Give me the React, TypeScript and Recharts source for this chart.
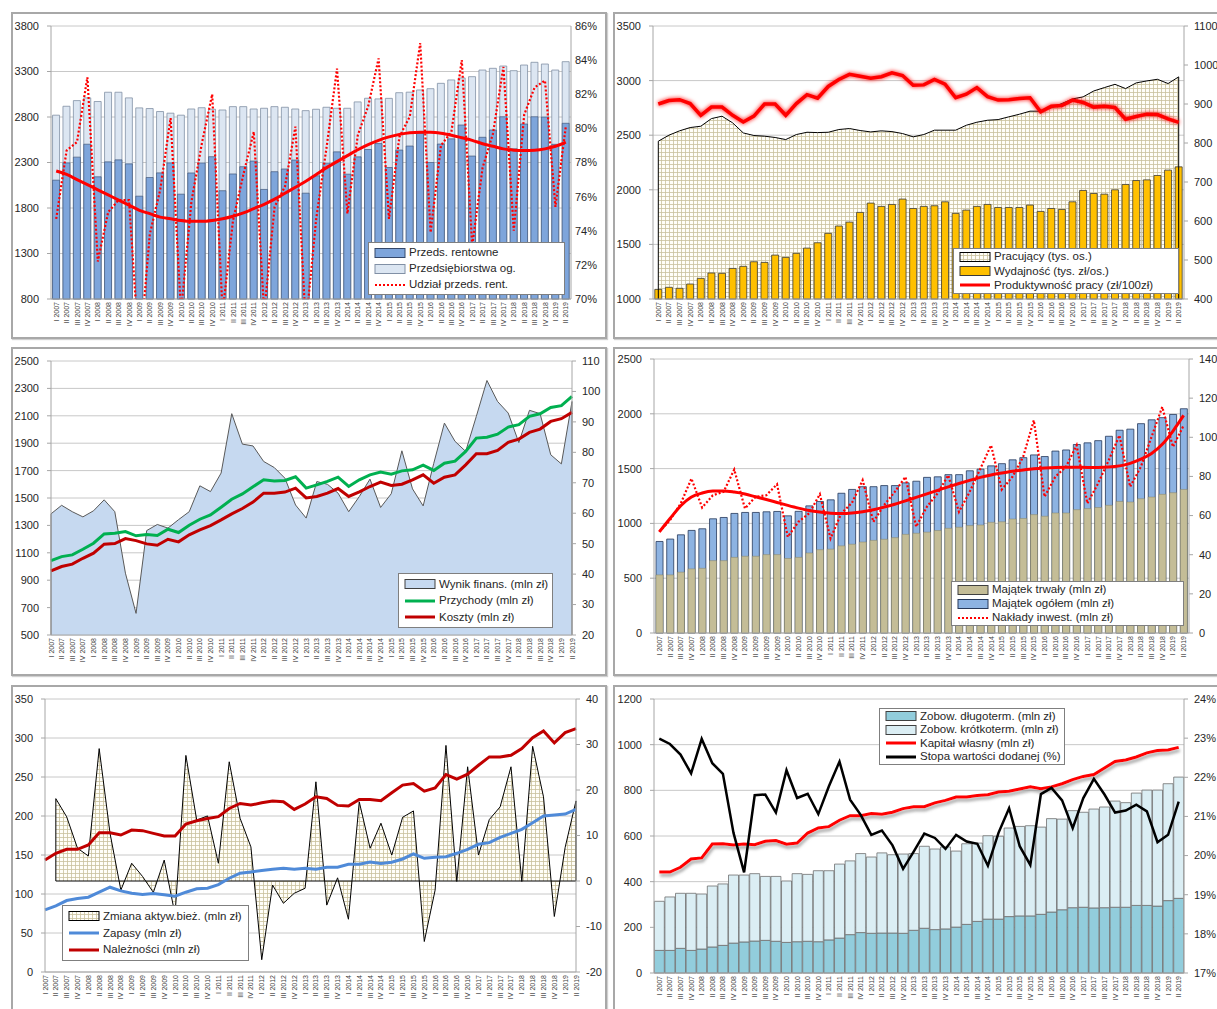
import React from "react";
import { ComposedChart, Bar, Line, Area, XAxis, YAxis, CartesianGrid, ReferenceLine } from "recharts";

const FONT = "'Liberation Sans', Arial, sans-serif";
const GRID = "#c8c8c8";
const AXIS = "#a6a6a6";
const TEXT = "#262626";

const quarters = [
  "I 2007", "II 2007", "III 2007", "IV 2007", "I 2008", "II 2008", "III 2008", "IV 2008",
  "I 2009", "II 2009", "III 2009", "IV 2009", "I 2010", "II 2010", "III 2010", "IV 2010",
  "I 2011", "II 2011", "III 2011", "IV 2011", "I 2012", "II 2012", "III 2012", "IV 2012",
  "I 2013", "II 2013", "III 2013", "IV 2013", "I 2014", "II 2014", "III 2014", "IV 2014",
  "I 2015", "II 2015", "III 2015", "IV 2015", "I 2016", "II 2016", "III 2016", "IV 2016",
  "I 2017", "II 2017", "III 2017", "IV 2017", "I 2018", "II 2018", "III 2018", "IV 2018",
  "I 2019", "II 2019",
];

// panel 1: przedsiębiorstwa
const przedsOgolem = [2820, 2918, 2980, 3010, 2970, 3072, 3072, 3010, 2900, 2893, 2860, 2842, 2820, 2888, 2902, 2885, 2877, 2914, 2914, 2888, 2896, 2914, 2907, 2888, 2870, 2885, 2907, 2896, 2896, 2966, 3006, 2999, 3005, 3067, 3073, 3097, 3111, 3170, 3207, 3229, 3243, 3316, 3335, 3360, 3309, 3371, 3401, 3382, 3316, 3408];
const przedsRentowne = [2106, 2296, 2359, 2501, 2143, 2307, 2329, 2285, 1930, 2135, 2186, 2296, 1952, 2185, 2295, 2364, 1990, 2174, 2254, 2316, 2004, 2199, 2229, 2327, 1963, 2154, 2293, 2417, 2172, 2362, 2443, 2508, 2245, 2437, 2481, 2621, 2300, 2503, 2560, 2712, 2371, 2577, 2657, 2803, 2450, 2723, 2803, 2800, 2500, 2731];
const udzialRent = [74.7, 78.7, 79.2, 83.0, 72.2, 75.1, 75.8, 75.8, 66.6, 73.8, 76.4, 80.6, 69.2, 75.7, 79.1, 82.0, 69.2, 74.6, 77.3, 79.8, 69.2, 75.4, 76.6, 80.1, 68.4, 74.7, 78.9, 83.5, 75.0, 79.6, 81.3, 84.1, 74.7, 79.5, 80.7, 85.0, 73.9, 79.0, 79.8, 84.0, 73.1, 77.7, 79.7, 83.6, 74.0, 80.8, 82.4, 82.8, 75.4, 80.1];
const udzialTrend = [77.5, 77.3, 77.0, 76.7, 76.4, 76.1, 75.8, 75.5, 75.2, 75.0, 74.8, 74.7, 74.6, 74.55, 74.55, 74.6, 74.7, 74.85, 75.05, 75.3, 75.55, 75.85, 76.2, 76.55, 76.9, 77.3, 77.7, 78.05, 78.4, 78.75, 79.05, 79.3, 79.5, 79.65, 79.75, 79.78, 79.78, 79.72, 79.6, 79.45, 79.3, 79.1, 78.95, 78.8, 78.72, 78.7, 78.72, 78.8, 78.95, 79.2];

// panel 2: pracujący, wydajność, produktywność
const pracujacy = [2445, 2500, 2540, 2570, 2582, 2652, 2674, 2613, 2521, 2497, 2491, 2479, 2460, 2506, 2527, 2524, 2527, 2552, 2561, 2543, 2530, 2540, 2533, 2515, 2485, 2506, 2546, 2546, 2546, 2591, 2619, 2637, 2643, 2668, 2692, 2720, 2720, 2753, 2790, 2832, 2851, 2905, 2936, 2966, 2927, 2979, 2997, 3012, 2973, 3034];
const wydajnosc = [1088, 1107, 1098, 1137, 1189, 1238, 1235, 1280, 1299, 1341, 1335, 1402, 1381, 1418, 1466, 1515, 1601, 1668, 1704, 1793, 1878, 1848, 1866, 1915, 1829, 1848, 1854, 1890, 1784, 1814, 1848, 1866, 1838, 1838, 1838, 1860, 1802, 1829, 1820, 1890, 1994, 1966, 1960, 2000, 2049, 2085, 2091, 2131, 2180, 2210];
const produktywnosc = [900, 909, 911, 901, 871, 892, 892, 871, 854, 869, 900, 900, 871, 901, 924, 915, 945, 963, 976, 971, 966, 970, 980, 973, 948, 949, 963, 951, 916, 925, 942, 919, 910, 911, 914, 916, 880, 894, 896, 910, 904, 892, 894, 891, 861, 868, 874, 873, 862, 853];

// panel 3: wynik, przychody, koszty
const wynikFinans = [59.8, 62.6, 60.5, 58.8, 60.8, 64.4, 60.5, 40.3, 27.1, 54.3, 56.3, 55.1, 57.9, 60.5, 69.0, 67.1, 73.2, 92.7, 82.7, 82.1, 77.0, 75.0, 71.5, 62.7, 58.4, 70.4, 69.5, 66.6, 60.5, 65.5, 71.2, 61.9, 66.4, 80.5, 68.0, 62.4, 76.4, 89.6, 83.6, 80.3, 91.8, 103.6, 96.7, 92.9, 83.2, 93.8, 92.7, 79.2, 76.2, 96.7];
const przychody = [1043, 1072, 1085, 1126, 1170, 1238, 1243, 1255, 1224, 1233, 1226, 1272, 1248, 1301, 1345, 1377, 1433, 1491, 1530, 1582, 1633, 1625, 1628, 1655, 1572, 1596, 1621, 1652, 1584, 1633, 1669, 1689, 1674, 1698, 1706, 1740, 1701, 1754, 1769, 1840, 1937, 1944, 1966, 2018, 2035, 2096, 2115, 2161, 2174, 2242];
const koszty = [968, 1000, 1017, 1060, 1097, 1163, 1167, 1204, 1189, 1165, 1155, 1199, 1180, 1231, 1267, 1299, 1340, 1384, 1423, 1470, 1535, 1535, 1543, 1572, 1501, 1511, 1535, 1569, 1511, 1545, 1584, 1616, 1591, 1601, 1633, 1669, 1608, 1652, 1669, 1742, 1823, 1823, 1847, 1906, 1930, 1979, 2003, 2059, 2079, 2125];

// panel 4: majątek, nakłady
const majatekOgolem = [835, 857, 896, 936, 951, 1042, 1054, 1091, 1100, 1100, 1106, 1109, 1069, 1110, 1160, 1200, 1215, 1275, 1310, 1335, 1335, 1345, 1345, 1370, 1385, 1420, 1425, 1445, 1445, 1480, 1495, 1525, 1545, 1580, 1600, 1625, 1610, 1660, 1670, 1720, 1735, 1755, 1795, 1850, 1860, 1910, 1945, 1965, 1994, 2046];
const majatekTrwaly = [530, 530, 555, 585, 590, 660, 660, 690, 700, 700, 715, 715, 680, 690, 730, 760, 765, 795, 810, 830, 845, 855, 870, 900, 910, 920, 935, 955, 965, 980, 985, 1010, 1015, 1040, 1045, 1080, 1065, 1095, 1095, 1125, 1135, 1145, 1165, 1200, 1195, 1225, 1240, 1265, 1280, 1310];
const nakladyInwest = [51.7, 57.7, 66.2, 78.9, 64.1, 70.4, 72.1, 83.5, 63.6, 69.6, 70.4, 76.0, 49.1, 56.8, 61.1, 70.9, 48.3, 61.1, 66.5, 78.1, 56.8, 65.3, 72.1, 79.8, 54.3, 64.5, 71.3, 80.6, 61.9, 72.1, 84.0, 95.9, 73.3, 79.8, 90.0, 108.7, 69.6, 79.8, 84.9, 95.9, 66.2, 76.4, 88.3, 101.0, 74.7, 84.9, 100.2, 115.5, 95.1, 106.1];
const nakladyTrend = [51.7, 58.5, 65.0, 69.5, 71.5, 72.5, 72.6, 72.0, 71.0, 69.6, 68.2, 66.7, 65.2, 63.8, 62.6, 61.8, 61.2, 61.0, 61.3, 62.0, 63.0, 64.3, 65.8, 67.5, 69.3, 71.1, 72.9, 74.7, 76.4, 78.0, 79.5, 80.7, 81.7, 82.6, 83.3, 83.9, 84.3, 84.6, 84.7, 84.7, 84.6, 84.6, 84.8, 85.4, 86.7, 88.8, 91.7, 96.4, 103.2, 111.2];

// panel 5: aktywa bieżące
const zmianaAktyw = [null, 18.1, 14.1, 7.2, 5.5, 29.1, 10.5, -2.0, 3.9, 1.0, -2.5, 4.6, -7.4, 27.6, 13.4, 14.3, 3.9, 26.2, 13.8, 7.5, -17.3, -0.9, -4.9, -2.7, -1.6, 21.8, -5.3, 0.7, -8.4, 17.4, 7.2, 12.7, 5.7, 14.0, 15.4, -13.3, -2.0, 29.8, -0.1, 25.1, 5.7, 13.5, 16.3, 25.1, -0.1, 29.6, 18.5, -7.8, 7.4, 17.6];
const zapasy = [79.7, 84.8, 91.6, 94.2, 95.9, 102.3, 108.7, 104.0, 101.0, 99.3, 100.6, 98.9, 97.2, 102.3, 106.6, 107.4, 112.1, 120.2, 126.6, 128.3, 130.0, 131.7, 133.0, 131.7, 133.0, 131.7, 134.3, 134.3, 138.1, 138.1, 141.1, 139.0, 140.7, 144.9, 151.3, 145.8, 147.1, 147.9, 152.2, 157.3, 163.7, 165.8, 172.6, 177.7, 182.9, 191.4, 199.9, 201.2, 202.5, 208.4];
const naleznosci = [143.6, 152.2, 157.3, 157.3, 162.8, 178.6, 178.6, 175.6, 182.0, 181.2, 177.7, 174.3, 174.3, 189.7, 193.9, 196.9, 199.1, 209.7, 216.1, 214.0, 217.0, 219.1, 218.2, 208.4, 215.3, 224.6, 222.5, 213.6, 212.7, 221.2, 221.2, 219.5, 229.8, 239.6, 241.7, 231.9, 236.1, 253.2, 247.2, 253.6, 265.1, 275.8, 275.8, 277.9, 286.5, 300.5, 309.1, 293.7, 306.9, 312.0];

// panel 6: zobowiązania, kapitał, stopa wartości dodanej
const zobDlugo = [99, 99, 108, 99, 105, 114, 121, 131, 136, 140, 143, 139, 134, 137, 139, 137, 145, 153, 168, 177, 174, 175, 175, 174, 187, 196, 190, 193, 201, 213, 226, 236, 236, 247, 250, 250, 257, 267, 277, 286, 288, 285, 286, 288, 288, 296, 296, 293, 317, 327];
const zobKrotko = [215, 234, 241, 250, 241, 267, 269, 298, 293, 295, 280, 284, 269, 298, 293, 311, 303, 324, 323, 346, 334, 351, 343, 347, 336, 359, 353, 359, 333, 353, 343, 365, 363, 388, 392, 395, 382, 409, 397, 425, 416, 433, 441, 465, 458, 492, 505, 508, 512, 531];
const kapitalWlasny = [442, 442, 463, 499, 504, 565, 566, 561, 565, 562, 577, 580, 564, 569, 613, 635, 641, 669, 689, 689, 698, 695, 704, 720, 728, 728, 745, 756, 771, 771, 777, 781, 793, 796, 806, 816, 807, 815, 829, 847, 861, 869, 898, 926, 933, 946, 964, 974, 977, 988];
const stopaWD = [22.99, 22.85, 22.58, 22.1, 22.98, 22.36, 22.09, 20.58, 19.57, 21.54, 21.56, 21.1, 22.18, 21.47, 21.58, 21.06, 21.77, 22.4, 21.43, 21.04, 20.53, 20.64, 20.26, 19.66, 20.1, 20.56, 20.45, 20.17, 20.53, 20.36, 20.3, 19.74, 20.58, 21.21, 20.24, 19.76, 21.57, 21.73, 21.41, 20.7, 21.47, 21.96, 21.56, 21.1, 21.15, 21.3, 21.13, 20.34, 20.53, 21.38];

const p1Data = quarters.map((q, i) => ({ q, ogolem: przedsOgolem[i], rentowne: przedsRentowne[i], udzial: udzialRent[i], trend: udzialTrend[i] }));
const p2Data = quarters.map((q, i) => ({ q, pracujacy: pracujacy[i], wydajnosc: wydajnosc[i], produktywnosc: produktywnosc[i] }));
const p3Data = quarters.map((q, i) => ({ q, wynik: wynikFinans[i], przychody: przychody[i], koszty: koszty[i] }));
const p4Data = quarters.map((q, i) => ({ q, ogolem: majatekOgolem[i], trwaly: majatekTrwaly[i], naklady: nakladyInwest[i], trend: nakladyTrend[i] }));
const p5Data = quarters.map((q, i) => ({ q, zmiana: zmianaAktyw[i], zapasy: zapasy[i], naleznosci: naleznosci[i] }));
const p6Data = quarters.map((q, i) => ({ q, dlugo: zobDlugo[i], krotko: zobKrotko[i], kapital: kapitalWlasny[i], stopa: stopaWD[i] }));

const first = quarters[0];
const second = quarters[1];
const last = quarters[quarters.length - 1];

const pct = (v: number) => `${v}%`;

function QuarterTick(props: any) {
  const { x, y, payload } = props;
  return (
    <text transform={`translate(${x + 2.5},${y}) rotate(-90)`} textAnchor="end" fontSize={7} fill="#404040" fontFamily={FONT}>
      {payload.value}
    </text>
  );
}

const tickStyle = { fontSize: 11, fill: TEXT, fontFamily: FONT };

function quarterAxis(id: string, height: number) {
  return (
    <XAxis
      xAxisId={id}
      dataKey="q"
      interval={0}
      height={height}
      tickSize={0}
      tickMargin={3}
      tickLine={false}
      axisLine={{ stroke: AXIS }}
      tick={(p: any) => <QuarterTick {...p} />}
    />
  );
}

type Swatch =
  | { kind: "box"; fill: string; stroke: string }
  | { kind: "line"; color: string }
  | { kind: "dots"; color: string };

function ChartLegend({ left, top, width, height, rows }: { left: number; top: number; width: number; height: number; rows: { label: string; swatch: Swatch }[] }) {
  return (
    <div
      style={{
        position: "absolute", left, top, width, height, boxSizing: "border-box", background: "#fff",
        border: "1px solid #7f7f7f", padding: "0 5px", display: "flex", flexDirection: "column",
        justifyContent: "space-evenly", fontFamily: FONT, fontSize: 11.5, color: TEXT, zIndex: 5,
      }}
    >
      {rows.map((r) => (
        <div key={r.label} style={{ display: "flex", alignItems: "center", lineHeight: "13px" }}>
          <svg width={32} height={12} style={{ flex: "none" }}>
            {r.swatch.kind === "box" && <rect x={1} y={1.5} width={30} height={9} fill={r.swatch.fill} stroke={r.swatch.stroke} strokeWidth={1} />}
            {r.swatch.kind === "line" && <line x1={1} x2={31} y1={6} y2={6} stroke={r.swatch.color} strokeWidth={3} />}
            {r.swatch.kind === "dots" && <line x1={1} x2={31} y1={6} y2={6} stroke={r.swatch.color} strokeWidth={2.2} strokeDasharray="2 2" />}
          </svg>
          <span style={{ marginLeft: 3, whiteSpace: "nowrap" }}>{r.label}</span>
        </div>
      ))}
    </div>
  );
}

function Frame({ left, top, width, height }: { left: number; top: number; width: number; height: number }) {
  return <div style={{ position: "absolute", left, top, width, height, boxSizing: "border-box", border: "2px solid #a8a8a8", boxShadow: "1px 1px 1px #d0d0d0" }} />;
}

function PanelPrzedsiebiorstwa() {
  return (
    <ComposedChart width={596} height={327} data={p1Data} margin={{ top: 14, right: 0, bottom: 0, left: 0 }} barCategoryGap="15%">
      <CartesianGrid vertical={false} stroke={GRID} xAxisId="a" yAxisId="l" />
      {quarterAxis("a", 40)}
      <XAxis xAxisId="b" dataKey="q" hide />
      <YAxis yAxisId="l" width={40} domain={[800, 3800]} ticks={[800, 1300, 1800, 2300, 2800, 3300, 3800]} tick={tickStyle} tickSize={4} tickMargin={8} axisLine={{ stroke: AXIS }} tickLine={{ stroke: AXIS }} />
      <YAxis yAxisId="r" orientation="right" width={36} domain={[70, 86]} ticks={[70, 72, 74, 76, 78, 80, 82, 84, 86]} tickFormatter={pct} allowDataOverflow tick={tickStyle} tickSize={0} tickMargin={4} axisLine={{ stroke: AXIS }} />
      <Bar xAxisId="a" yAxisId="l" dataKey="ogolem" fill="#dce6f2" stroke="#8190a5" strokeWidth={0.8} isAnimationActive={false} />
      <Bar xAxisId="b" yAxisId="l" dataKey="rentowne" fill="#7ea5db" stroke="#34486a" strokeWidth={0.6} isAnimationActive={false} />
      <Line xAxisId="a" yAxisId="r" dataKey="udzial" type="linear" stroke="#ff0000" strokeWidth={2.2} strokeDasharray="2 2" dot={false} activeDot={false} isAnimationActive={false} />
      <Line xAxisId="a" yAxisId="r" dataKey="trend" type="monotone" stroke="#ff0000" strokeWidth={3} dot={false} activeDot={false} isAnimationActive={false} />
    </ComposedChart>
  );
}

function PanelPracujacy() {
  return (
    <ComposedChart width={610} height={327} data={p2Data} margin={{ top: 14, right: 0, bottom: 0, left: 0 }} barCategoryGap="17%">
      <CartesianGrid vertical={false} stroke={GRID} yAxisId="l" />
      {quarterAxis("0", 40)}
      <YAxis yAxisId="l" width={40} domain={[1000, 3500]} ticks={[1000, 1500, 2000, 2500, 3000, 3500]} tick={tickStyle} tickSize={4} tickMargin={8} axisLine={{ stroke: AXIS }} tickLine={{ stroke: AXIS }} />
      <YAxis yAxisId="r" orientation="right" width={39} domain={[400, 1100]} ticks={[400, 500, 600, 700, 800, 900, 1000, 1100]} tick={tickStyle} tickSize={4} tickMargin={6} axisLine={{ stroke: AXIS }} tickLine={{ stroke: AXIS }} />
      <Area yAxisId="l" dataKey="pracujacy" type="linear" fill="url(#hatch)" fillOpacity={1} stroke="#000" strokeWidth={1} dot={false} activeDot={false} isAnimationActive={false} />
      <ReferenceLine yAxisId="l" segment={[{ x: first, y: 1000 }, { x: first, y: pracujacy[0] }]} stroke="#000" strokeWidth={1} />
      <ReferenceLine yAxisId="l" segment={[{ x: last, y: 1000 }, { x: last, y: pracujacy[pracujacy.length - 1] }]} stroke="#000" strokeWidth={1} />
      <Bar yAxisId="l" dataKey="wydajnosc" fill="#ffc000" stroke="#3a3a3a" strokeWidth={0.8} isAnimationActive={false} />
      <Line yAxisId="r" dataKey="produktywnosc" type="linear" stroke="#ff0000" strokeWidth={3.5} filter="url(#glow)" dot={false} activeDot={false} isAnimationActive={false} />
    </ComposedChart>
  );
}

function PanelWynik() {
  return (
    <ComposedChart width={596} height={329} data={p3Data} margin={{ top: 14, right: 0, bottom: 0, left: 0 }}>
      <CartesianGrid vertical={false} stroke={GRID} yAxisId="l" />
      {quarterAxis("0", 41)}
      <YAxis yAxisId="l" width={40} domain={[500, 2500]} ticks={[500, 700, 900, 1100, 1300, 1500, 1700, 1900, 2100, 2300, 2500]} tick={tickStyle} tickSize={4} tickMargin={8} axisLine={{ stroke: AXIS }} tickLine={{ stroke: AXIS }} />
      <YAxis yAxisId="r" orientation="right" width={35} domain={[20, 110]} ticks={[20, 30, 40, 50, 60, 70, 80, 90, 100, 110]} tick={tickStyle} tickSize={4} tickMargin={6} axisLine={{ stroke: AXIS }} tickLine={{ stroke: AXIS }} />
      <Area yAxisId="r" dataKey="wynik" type="linear" fill="#c6d9f0" fillOpacity={1} stroke="#595959" strokeWidth={1} dot={false} activeDot={false} isAnimationActive={false} />
      <ReferenceLine yAxisId="r" segment={[{ x: first, y: 20 }, { x: first, y: wynikFinans[0] }]} stroke="#595959" strokeWidth={1} />
      <ReferenceLine yAxisId="r" segment={[{ x: last, y: 20 }, { x: last, y: wynikFinans[wynikFinans.length - 1] }]} stroke="#595959" strokeWidth={1} />
      <Line yAxisId="l" dataKey="przychody" type="linear" stroke="#00b050" strokeWidth={3} dot={false} activeDot={false} isAnimationActive={false} />
      <Line yAxisId="l" dataKey="koszty" type="linear" stroke="#c00000" strokeWidth={3} dot={false} activeDot={false} isAnimationActive={false} />
    </ComposedChart>
  );
}

function PanelMajatek() {
  return (
    <ComposedChart width={610} height={329} data={p4Data} margin={{ top: 12, right: 0, bottom: 0, left: 0 }} barCategoryGap="19%">
      <CartesianGrid vertical={false} stroke={GRID} xAxisId="a" yAxisId="l" />
      {quarterAxis("a", 43)}
      <XAxis xAxisId="b" dataKey="q" hide />
      <YAxis yAxisId="l" width={41} domain={[0, 2500]} ticks={[0, 500, 1000, 1500, 2000, 2500]} tick={tickStyle} tickSize={4} tickMargin={8} axisLine={{ stroke: AXIS }} tickLine={{ stroke: AXIS }} />
      <YAxis yAxisId="r" orientation="right" width={34} domain={[0, 140]} ticks={[0, 20, 40, 60, 80, 100, 120, 140]} tick={tickStyle} tickSize={4} tickMargin={6} axisLine={{ stroke: AXIS }} tickLine={{ stroke: AXIS }} />
      <Bar xAxisId="a" yAxisId="l" dataKey="ogolem" fill="#8db3e2" stroke="#26395a" strokeWidth={0.8} isAnimationActive={false} />
      <Bar xAxisId="b" yAxisId="l" dataKey="trwaly" fill="#c4bd97" stroke="#8a8465" strokeWidth={0.5} isAnimationActive={false} />
      <Line xAxisId="a" yAxisId="r" dataKey="naklady" type="linear" stroke="#ff0000" strokeWidth={2.2} strokeDasharray="2 2" dot={false} activeDot={false} isAnimationActive={false} />
      <Line xAxisId="a" yAxisId="r" dataKey="trend" type="monotone" stroke="#ff0000" strokeWidth={3} dot={false} activeDot={false} isAnimationActive={false} />
    </ComposedChart>
  );
}

function PanelAktywa() {
  return (
    <ComposedChart width={596} height={330} data={p5Data} margin={{ top: 14, right: 0, bottom: 0, left: 0 }}>
      <CartesianGrid vertical={false} stroke={GRID} yAxisId="l" />
      {quarterAxis("0", 43)}
      <YAxis yAxisId="l" width={34} domain={[0, 350]} ticks={[0, 50, 100, 150, 200, 250, 300, 350]} tick={tickStyle} tickSize={4} tickMargin={8} axisLine={{ stroke: AXIS }} tickLine={{ stroke: AXIS }} />
      <YAxis yAxisId="r" orientation="right" width={31} domain={[-20, 40]} ticks={[-20, -10, 0, 10, 20, 30, 40]} tick={tickStyle} tickSize={4} tickMargin={6} axisLine={{ stroke: AXIS }} tickLine={{ stroke: AXIS }} />
      <Area yAxisId="r" dataKey="zmiana" type="linear" baseValue={0} fill="url(#hatch)" fillOpacity={1} stroke="#000" strokeWidth={1} dot={false} activeDot={false} isAnimationActive={false} />
      <ReferenceLine yAxisId="r" segment={[{ x: second, y: 0 }, { x: last, y: 0 }]} stroke="#000" strokeWidth={1.2} />
      <ReferenceLine yAxisId="r" segment={[{ x: second, y: 0 }, { x: second, y: zmianaAktyw[1] as number }]} stroke="#000" strokeWidth={1} />
      <ReferenceLine yAxisId="r" segment={[{ x: last, y: 0 }, { x: last, y: zmianaAktyw[zmianaAktyw.length - 1] as number }]} stroke="#000" strokeWidth={1} />
      <Line yAxisId="l" dataKey="zapasy" type="linear" stroke="#4f8ad8" strokeWidth={3} dot={false} activeDot={false} isAnimationActive={false} />
      <Line yAxisId="l" dataKey="naleznosci" type="linear" stroke="#c00000" strokeWidth={3} dot={false} activeDot={false} isAnimationActive={false} />
    </ComposedChart>
  );
}

function PanelZobowiazania() {
  return (
    <ComposedChart width={610} height={330} data={p6Data} margin={{ top: 14, right: 0, bottom: 0, left: 0 }} barCategoryGap="3%">
      <CartesianGrid vertical={false} stroke={GRID} yAxisId="l" />
      {quarterAxis("0", 42)}
      <YAxis yAxisId="l" width={41} domain={[0, 1200]} ticks={[0, 200, 400, 600, 800, 1000, 1200]} tick={tickStyle} tickSize={4} tickMargin={8} axisLine={{ stroke: AXIS }} tickLine={{ stroke: AXIS }} />
      <YAxis yAxisId="r" orientation="right" width={39} domain={[17, 24]} ticks={[17, 18, 19, 20, 21, 22, 23, 24]} tickFormatter={pct} tick={tickStyle} tickSize={4} tickMargin={6} axisLine={{ stroke: AXIS }} tickLine={{ stroke: AXIS }} />
      <Bar yAxisId="l" dataKey="dlugo" stackId="z" fill="#92cddc" stroke="#6f6f6f" strokeWidth={0.8} isAnimationActive={false} />
      <Bar yAxisId="l" dataKey="krotko" stackId="z" fill="#dbeef4" stroke="#6f6f6f" strokeWidth={0.8} isAnimationActive={false} />
      <Line yAxisId="l" dataKey="kapital" type="linear" stroke="#ff0000" strokeWidth={3} filter="url(#shadow)" dot={false} activeDot={false} isAnimationActive={false} />
      <Line yAxisId="r" dataKey="stopa" type="linear" stroke="#000" strokeWidth={2.5} dot={false} activeDot={false} isAnimationActive={false} />
    </ComposedChart>
  );
}

function Placed({ left, top, children }: { left: number; top: number; children: React.ReactNode }) {
  return <div style={{ position: "absolute", left, top }}>{children}</div>;
}

export default function App() {
  return (
    <div style={{ position: "absolute", left: 0, top: 0, width: 1217, height: 1009, overflow: "hidden", background: "#fff", fontFamily: FONT }}>
      <svg width={0} height={0} style={{ position: "absolute" }}>
        <defs>
          <pattern id="hatch" width={4} height={4} patternUnits="userSpaceOnUse">
            <rect width={4} height={4} fill="#fffef8" />
            <path d="M0 0.5H4M0.5 0V4" stroke="#c9c09c" strokeWidth={0.8} />
          </pattern>
          <filter id="glow" filterUnits="userSpaceOnUse" x={-50} y={-50} width={800} height={500}>
            <feGaussianBlur in="SourceGraphic" stdDeviation={2.2} result="blur" />
            <feMerge>
              <feMergeNode in="blur" />
              <feMergeNode in="SourceGraphic" />
            </feMerge>
          </filter>
          <filter id="shadow" filterUnits="userSpaceOnUse" x={-50} y={-50} width={800} height={500}>
            <feDropShadow dx={1} dy={3} stdDeviation={1.5} floodColor="#7f7f7f" floodOpacity={0.7} />
          </filter>
        </defs>
      </svg>

      <Frame left={11} top={12} width={596} height={327} />
      <Frame left={613} top={12} width={612} height={327} />
      <Frame left={11} top={347} width={596} height={329} />
      <Frame left={613} top={347} width={612} height={329} />
      <Frame left={11} top={685} width={596} height={330} />
      <Frame left={613} top={685} width={612} height={330} />

      <Placed left={11} top={12}><PanelPrzedsiebiorstwa /></Placed>
      <Placed left={613} top={12}><PanelPracujacy /></Placed>
      <Placed left={11} top={347}><PanelWynik /></Placed>
      <Placed left={613} top={347}><PanelMajatek /></Placed>
      <Placed left={11} top={685}><PanelAktywa /></Placed>
      <Placed left={613} top={685}><PanelZobowiazania /></Placed>

      <ChartLegend left={368} top={242} width={197} height={53} rows={[
        { label: "Przeds. rentowne", swatch: { kind: "box", fill: "#7ea5db", stroke: "#34486a" } },
        { label: "Przedsiębiorstwa og.", swatch: { kind: "box", fill: "#dce6f2", stroke: "#8190a5" } },
        { label: "Udział przeds. rent.", swatch: { kind: "dots", color: "#ff0000" } },
      ]} />
      <ChartLegend left={953} top={248} width={226} height={46} rows={[
        { label: "Pracujący (tys. os.)", swatch: { kind: "box", fill: "url(#hatch)", stroke: "#000" } },
        { label: "Wydajność (tys. zł/os.)", swatch: { kind: "box", fill: "#ffc000", stroke: "#3a3a3a" } },
        { label: "Produktywność pracy (zł/100zł)", swatch: { kind: "line", color: "#ff0000" } },
      ]} />
      <ChartLegend left={398} top={573} width={155} height={55} rows={[
        { label: "Wynik finans. (mln zł)", swatch: { kind: "box", fill: "#c6d9f0", stroke: "#404040" } },
        { label: "Przychody (mln zł)", swatch: { kind: "line", color: "#00b050" } },
        { label: "Koszty (mln zł)", swatch: { kind: "line", color: "#c00000" } },
      ]} />
      <ChartLegend left={951} top={581} width={233} height={45} rows={[
        { label: "Majątek trwały (mln zł)", swatch: { kind: "box", fill: "#c4bd97", stroke: "#404040" } },
        { label: "Majątek ogółem (mln zł)", swatch: { kind: "box", fill: "#8db3e2", stroke: "#26395a" } },
        { label: "Nakłady inwest. (mln zł)", swatch: { kind: "dots", color: "#ff0000" } },
      ]} />
      <ChartLegend left={62} top={905} width={187} height={56} rows={[
        { label: "Zmiana aktyw.bież. (mln zł)", swatch: { kind: "box", fill: "url(#hatch)", stroke: "#000" } },
        { label: "Zapasy (mln zł)", swatch: { kind: "line", color: "#4f8ad8" } },
        { label: "Należności (mln zł)", swatch: { kind: "line", color: "#c00000" } },
      ]} />
      <ChartLegend left={879} top={708} width={186} height={57} rows={[
        { label: "Zobow. długoterm. (mln zł)", swatch: { kind: "box", fill: "#92cddc", stroke: "#404040" } },
        { label: "Zobow. krótkoterm. (mln zł)", swatch: { kind: "box", fill: "#dbeef4", stroke: "#404040" } },
        { label: "Kapitał własny (mln zł)", swatch: { kind: "line", color: "#ff0000" } },
        { label: "Stopa wartości dodanej (%)", swatch: { kind: "line", color: "#000" } },
      ]} />
    </div>
  );
}
